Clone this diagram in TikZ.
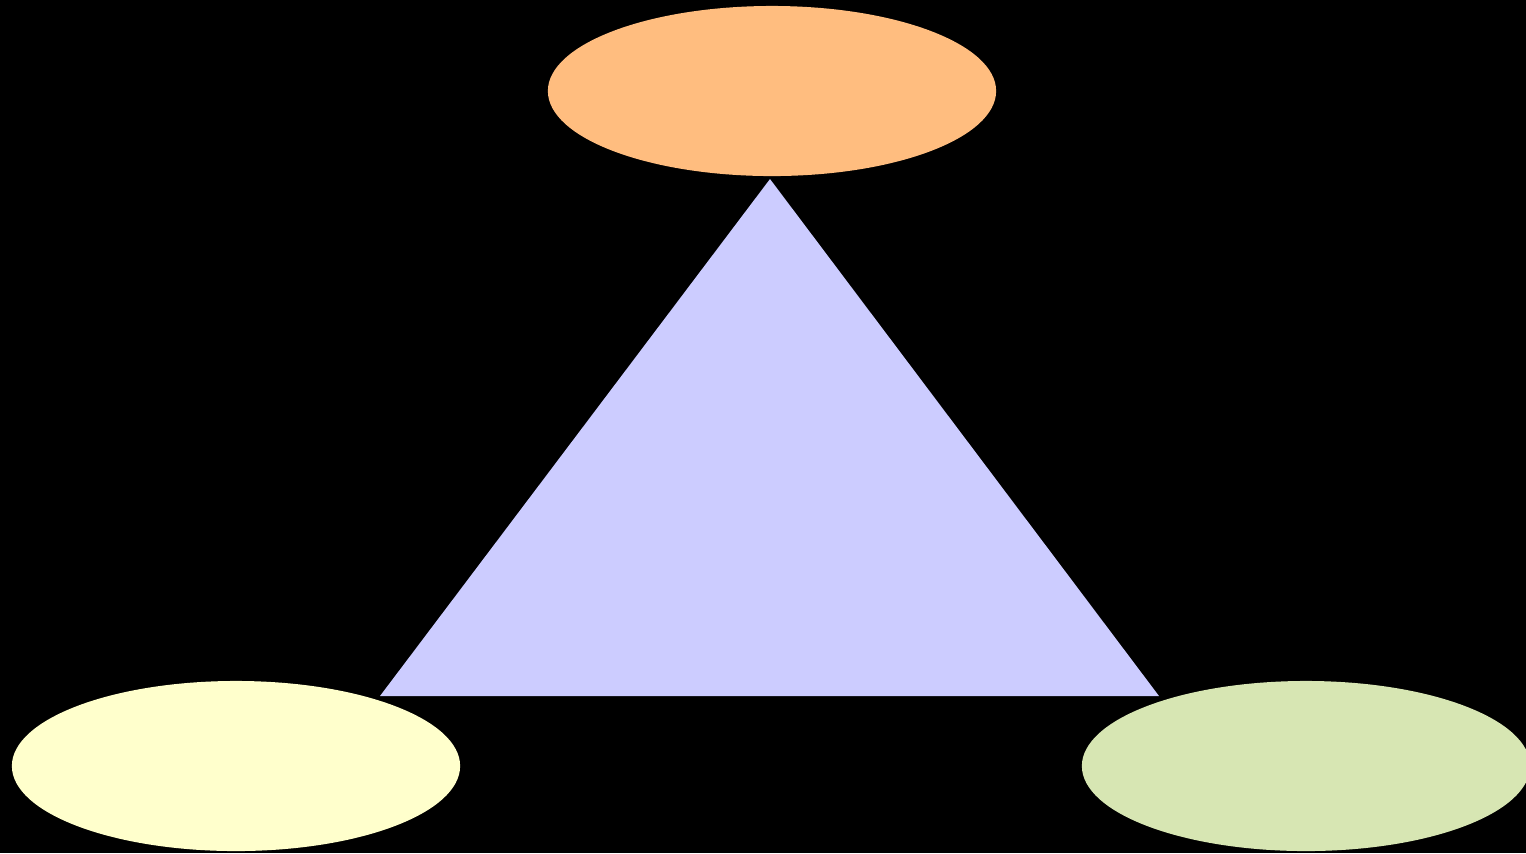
\documentclass[tikz,border=0pt]{standalone}
\usepackage{tikz}
\usetikzlibrary{shapes.geometric}

\definecolor{peach}{HTML}{FFBD7F}
\definecolor{lavender}{HTML}{CCCCFF}
\definecolor{cream}{HTML}{FFFFCC}
\definecolor{sage}{HTML}{D7E6B3}

\begin{document}
\begin{tikzpicture}[x=0.01cm, y=-0.01cm,
		every node/.style={ellipse, draw=none, minimum width=4.48cm, minimum height=1.70cm, inner sep=0pt}]
	\fill[black] (0,0) rectangle (1526,853);
	\useasboundingbox (0,0) rectangle (1526,853);
	\node[fill=peach] (top) at (772,91) {};
	\node[fill=cream] (left) at (236,766) {};
	\node[fill=sage] (right) at (1306,766) {};
	\coordinate (apex) at (770,179);
	\coordinate (base l) at (380,696);
	\coordinate (base r) at (1159,696);
	\fill[lavender] (apex) -- (base r) -- (base l) -- cycle;
\end{tikzpicture}
\end{document}
